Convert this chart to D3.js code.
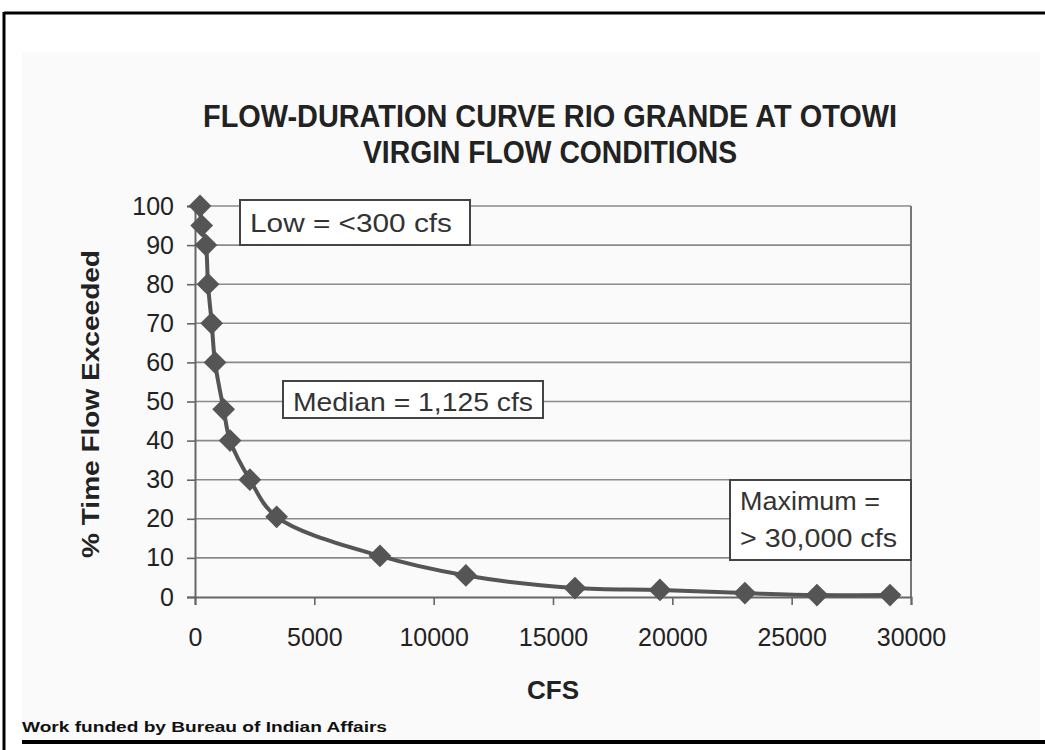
<!DOCTYPE html>
<html>
<head>
<meta charset="utf-8">
<script src="https://cdn.jsdelivr.net/npm/d3@7"></script>
<style>
  html, body { margin: 0; padding: 0; background: #ffffff; }
  svg { display: block; }
</style>
</head>
<body>
<div id="chart"></div>
<script>
// ---- data ----
const titleLines = ["FLOW-DURATION CURVE RIO GRANDE AT OTOWI", "VIRGIN FLOW CONDITIONS"];
const xAxisTitle = "CFS";
const yAxisTitle = "% Time Flow Exceeded";
const footer = "Work funded by Bureau of Indian Affairs";
const xTicks = [0, 5000, 10000, 15000, 20000, 25000, 30000];
const yTicks = [0, 10, 20, 30, 40, 50, 60, 70, 80, 90, 100];
const cfsValues = [210, 280, 460, 545, 700, 840, 1200, 1470, 2300, 3420, 7750, 11350, 15920, 19480, 23040, 26060, 29120];
const pctValues = [100, 95, 90, 80, 70, 60, 48, 40, 30, 20.5, 10.5, 5.5, 2.3, 1.8, 1.0, 0.5, 0.5];
const lowText = ["Low = <300 cfs"];
const medianText = ["Median = 1,125 cfs"];
const maxText = ["Maximum =", "> 30,000 cfs"];

const W = 1045, H = 750;
const svg = d3.select("#chart").append("svg").attr("width", W).attr("height", H);

// page frame / panel
svg.append("rect").attr("x", 22).attr("y", 52).attr("width", 1018).attr("height", 688).attr("fill", "#fafafa");
svg.append("line").attr("x1", 4).attr("x2", 1045).attr("y1", 13).attr("y2", 13).attr("stroke", "#000").attr("stroke-width", 3);
svg.append("line").attr("x1", 4).attr("x2", 4).attr("y1", 12).attr("y2", 750).attr("stroke", "#000").attr("stroke-width", 3);
svg.append("line").attr("x1", 22).attr("x2", 1045).attr("y1", 742).attr("y2", 742).attr("stroke", "#000").attr("stroke-width", 4);

const x = d3.scaleLinear().domain([0, 30000]).range([195, 911]);
const y = d3.scaleLinear().domain([0, 100]).range([597, 206]);

const font = "'Liberation Sans', Arial, sans-serif";

// gridlines
svg.append("g").selectAll("line").data(yTicks.filter(d => d > 0)).join("line")
  .attr("x1", x(0)).attr("x2", x(30000))
  .attr("y1", d => y(d)).attr("y2", d => y(d))
  .attr("stroke", "#8a8a8a").attr("stroke-width", 1.6);
// right border of plot
svg.append("line").attr("x1", x(30000)).attr("x2", x(30000)).attr("y1", y(100)).attr("y2", y(0))
  .attr("stroke", "#777").attr("stroke-width", 2);

// axes
const yAxis = svg.append("g").attr("transform", `translate(${x(0)},0)`)
  .call(d3.axisLeft(y).tickValues(yTicks).tickSize(8).tickPadding(13));
const xAxis = svg.append("g").attr("transform", `translate(0,${y(0)})`)
  .call(d3.axisBottom(x).tickValues(xTicks).tickSize(8).tickPadding(23).tickFormat(d3.format("d")));
[xAxis, yAxis].forEach(g => {
  g.select(".domain").attr("stroke", "#666").attr("stroke-width", 2);
  g.selectAll(".tick line").attr("stroke", "#666").attr("stroke-width", 1.6);
  g.selectAll("text").attr("font-family", font).attr("font-size", 25).attr("fill", "#222");
});

// curve
const pts = cfsValues.map((c, i) => [c, pctValues[i]]);
svg.append("path").datum(pts)
  .attr("fill", "none").attr("stroke", "#555").attr("stroke-width", 4)
  .attr("d", d3.line().x(d => x(d[0])).y(d => y(d[1])).curve(d3.curveCatmullRom.alpha(0.5)));
svg.append("g").selectAll("path").data(pts).join("path")
  .attr("transform", d => `translate(${x(d[0])},${y(d[1])})`)
  .attr("d", d3.symbol(d3.symbolDiamond2, 330))
  .attr("fill", "#555");

// annotation boxes
function box(x0, y0, w, h, lines, tx, ty, dy, lens) {
  svg.append("rect").attr("x", x0).attr("y", y0).attr("width", w).attr("height", h)
    .attr("fill", "#fff").attr("stroke", "#444").attr("stroke-width", 2);
  lines.forEach((t, i) => {
    svg.append("text").attr("x", tx).attr("y", ty + i * dy)
      .attr("font-family", font).attr("font-size", 25).attr("fill", "#333")
      .attr("textLength", lens[i]).attr("lengthAdjust", "spacingAndGlyphs")
      .text(t);
  });
}
box(240, 200, 230, 45, lowText, 250, 232, 0, [202]);
box(283, 381, 260, 37, medianText, 293, 411, 0, [240]);
box(730, 480, 181, 80, maxText, 740, 510, 37, [140, 157]);

// titles
titleLines.forEach((t, i) => {
  svg.append("text").attr("x", 550).attr("y", [127, 163][i]).attr("text-anchor", "middle")
    .attr("font-family", font).attr("font-weight", "bold").attr("font-size", 32).attr("fill", "#222")
    .attr("textLength", [694, 374][i]).attr("lengthAdjust", "spacingAndGlyphs")
    .text(t);
});
svg.append("text").attr("x", 553).attr("y", 699).attr("text-anchor", "middle")
  .attr("font-family", font).attr("font-weight", "bold").attr("font-size", 26).attr("fill", "#222")
  .attr("textLength", 52).attr("lengthAdjust", "spacingAndGlyphs").text(xAxisTitle);
svg.append("text").attr("transform", "translate(99,404) rotate(-90)").attr("text-anchor", "middle")
  .attr("font-family", font).attr("font-weight", "bold").attr("font-size", 24).attr("fill", "#222")
  .attr("textLength", 308).attr("lengthAdjust", "spacingAndGlyphs").text(yAxisTitle);
svg.append("text").attr("x", 22).attr("y", 732)
  .attr("font-family", font).attr("font-weight", "bold").attr("font-size", 14).attr("fill", "#111")
  .attr("textLength", 365).attr("lengthAdjust", "spacingAndGlyphs").text(footer);
</script>
</body>
</html>
